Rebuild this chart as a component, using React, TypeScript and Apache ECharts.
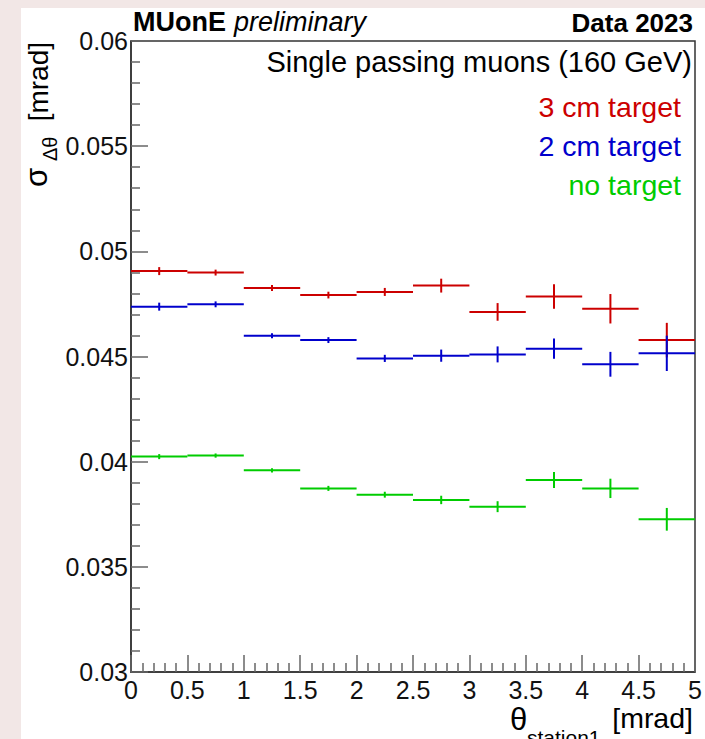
import React, { useEffect, useRef } from "react";
import * as echarts from "echarts";

// Bin edges (theta_station1, mrad)
const binLow = [0, 0.5, 1, 1.5, 2, 2.5, 3, 3.5, 4, 4.5];
const binHigh = [0.5, 1, 1.5, 2, 2.5, 3, 3.5, 4, 4.5, 5];

// sigma_Δθ [mrad]
const red3cm = [0.04906, 0.04899, 0.04826, 0.04792, 0.04807, 0.04837, 0.04712, 0.04785, 0.04727, 0.04578];
const red3cmErr = [0.00019, 0.00014, 0.00014, 0.00016, 0.00019, 0.00033, 0.00042, 0.00058, 0.0007, 0.00082];
const blue2cm = [0.04737, 0.04748, 0.04599, 0.04578, 0.04491, 0.04504, 0.0451, 0.04537, 0.04463, 0.04515];
const blue2cmErr = [0.00019, 0.00014, 0.00012, 0.00014, 0.00017, 0.00029, 0.00038, 0.00048, 0.00059, 0.00084];
const greenNo = [0.04024, 0.04029, 0.03959, 0.03873, 0.03843, 0.03818, 0.03786, 0.03913, 0.03873, 0.03726];
const greenNoErr = [0.00012, 0.0001, 0.0001, 0.00012, 0.00014, 0.0002, 0.00026, 0.00038, 0.00046, 0.00054];

const seriesNames = ["3 cm target", "2 cm target", "no target"];
const seriesColors = ["#cc0000", "#0000cc", "#00cc00"];

const FONT = "'Liberation Sans', Arial, Helvetica, sans-serif";

function buildData(vals: number[], errs: number[]) {
  return vals.map((v, i) => [binLow[i], binHigh[i], v, errs[i]]);
}

function makeSeries(name: string, color: string, vals: number[], errs: number[]) {
  return {
    type: "custom",
    name,
    data: buildData(vals, errs),
    encode: { x: [0, 1], y: 2 },
    renderItem: (params: any, api: any) => {
      const lo = api.value(0);
      const hi = api.value(1);
      const v = api.value(2);
      const e = api.value(3);
      const mid = (lo + hi) / 2;
      const a = api.coord([lo, v]);
      const b = api.coord([hi, v]);
      const c = api.coord([mid, v - e]);
      const d = api.coord([mid, v + e]);
      const style = { stroke: color, lineWidth: 2 };
      return {
        type: "group",
        children: [
          { type: "line", shape: { x1: a[0], y1: a[1], x2: b[0], y2: b[1] }, style },
          { type: "line", shape: { x1: c[0], y1: c[1], x2: d[0], y2: d[1] }, style },
        ],
      };
    },
  };
}

export default function App() {
  const ref = useRef<HTMLDivElement>(null);
  useEffect(() => {
    if (!ref.current) return;
    const chart = echarts.init(ref.current, null, { renderer: "svg" });
    const option: any = {
      animation: false,
      backgroundColor: "transparent",
      grid: {
        left: 131,
        top: 41,
        right: 10,
        bottom: 67,
        show: true,
        borderColor: "#333",
        borderWidth: 1.5,
        backgroundColor: "transparent",
      },
      xAxis: {
        type: "value",
        min: 0,
        max: 5,
        interval: 0.5,
        axisLine: { show: true, lineStyle: { color: "#333", width: 1.5 } },
        axisTick: { show: true, inside: true, length: 17, lineStyle: { color: "#666", width: 1.5 } },
        minorTick: { show: true, splitNumber: 5, length: 9, lineStyle: { color: "#666", width: 1.5 } },
        splitLine: { show: false },
        axisLabel: {
          fontSize: 25,
          fontFamily: FONT,
          color: "#111",
          margin: 5,
          formatter: (v: number) => String(+v.toFixed(1)),
        },
      },
      yAxis: {
        type: "value",
        min: 0.03,
        max: 0.06,
        interval: 0.005,
        axisLine: { show: true, lineStyle: { color: "#333", width: 1.5 } },
        axisTick: { show: true, inside: true, length: 17, lineStyle: { color: "#666", width: 1.5 } },
        minorTick: { show: true, splitNumber: 5, length: 9, lineStyle: { color: "#666", width: 1.5 } },
        splitLine: { show: false },
        axisLabel: {
          fontSize: 25,
          fontFamily: FONT,
          color: "#111",
          margin: 3,
          formatter: (v: number) => String(+v.toFixed(3)),
        },
      },
      series: [
        makeSeries(seriesNames[0], seriesColors[0], red3cm, red3cmErr),
        makeSeries(seriesNames[1], seriesColors[1], blue2cm, blue2cmErr),
        makeSeries(seriesNames[2], seriesColors[2], greenNo, greenNoErr),
      ],
      graphic: [
        {
          type: "text",
          x: 133,
          y: 22,
          style: {
            text: "MUonE",
            fontSize: 27,
            fontWeight: "bold",
            fontFamily: FONT,
            fill: "#000",
            align: "left",
            verticalAlign: "middle",
          },
        },
        {
          type: "text",
          x: 234,
          y: 22,
          style: {
            text: "preliminary",
            fontSize: 27,
            fontStyle: "italic",
            fontFamily: FONT,
            fill: "#000",
            align: "left",
            verticalAlign: "middle",
          },
        },
        {
          type: "text",
          x: 693,
          y: 23,
          style: {
            text: "Data 2023",
            fontSize: 26,
            fontWeight: "bold",
            fontFamily: FONT,
            fill: "#000",
            align: "right",
            verticalAlign: "middle",
          },
        },
        {
          type: "text",
          x: 692,
          y: 62,
          style: {
            text: "Single passing muons (160 GeV)",
            fontSize: 29,
            fontFamily: FONT,
            fill: "#000",
            align: "right",
            verticalAlign: "middle",
          },
        },
        ...seriesNames.map((n, i) => ({
          type: "text",
          x: 681,
          y: 107 + i * 39,
          style: {
            text: n,
            fontSize: 28.5,
            fontFamily: FONT,
            fill: seriesColors[i],
            align: "right",
            verticalAlign: "middle",
          },
        })),
        // y-axis title
        {
          type: "text",
          x: 36,
          y: 187,
          rotation: Math.PI / 2,
          style: { text: "σ", fontSize: 31, fontFamily: FONT, fill: "#000", align: "left", verticalAlign: "middle" },
        },
        {
          type: "text",
          x: 50,
          y: 161,
          rotation: Math.PI / 2,
          style: { text: "Δθ", fontSize: 20, fontFamily: FONT, fill: "#000", align: "left", verticalAlign: "middle" },
        },
        {
          type: "text",
          x: 38,
          y: 42,
          rotation: Math.PI / 2,
          style: { text: "[mrad]", fontSize: 28, fontFamily: FONT, fill: "#000", align: "right", verticalAlign: "middle" },
        },
        // x-axis title
        {
          type: "text",
          x: 510,
          y: 719,
          style: { text: "θ", fontSize: 31, fontFamily: FONT, fill: "#000", align: "left", verticalAlign: "middle" },
        },
        {
          type: "text",
          x: 527,
          y: 737,
          style: { text: "station1", fontSize: 21, fontFamily: FONT, fill: "#000", align: "left", verticalAlign: "middle" },
        },
        {
          type: "text",
          x: 693,
          y: 718,
          style: { text: "[mrad]", fontSize: 28.5, fontFamily: FONT, fill: "#000", align: "right", verticalAlign: "middle" },
        },
      ],
    };
    chart.setOption(option);
    return () => chart.dispose();
  }, []);

  return (
    <div style={{ position: "absolute", left: 0, top: 0, width: 705, height: 739, background: "#f2e7e6", overflow: "hidden" }}>
      <div style={{ position: "absolute", left: 21, top: 8, width: 684, height: 731, background: "#ffffff" }} />
      <div ref={ref} style={{ position: "absolute", left: 0, top: 0, width: 705, height: 739 }} />
    </div>
  );
}
